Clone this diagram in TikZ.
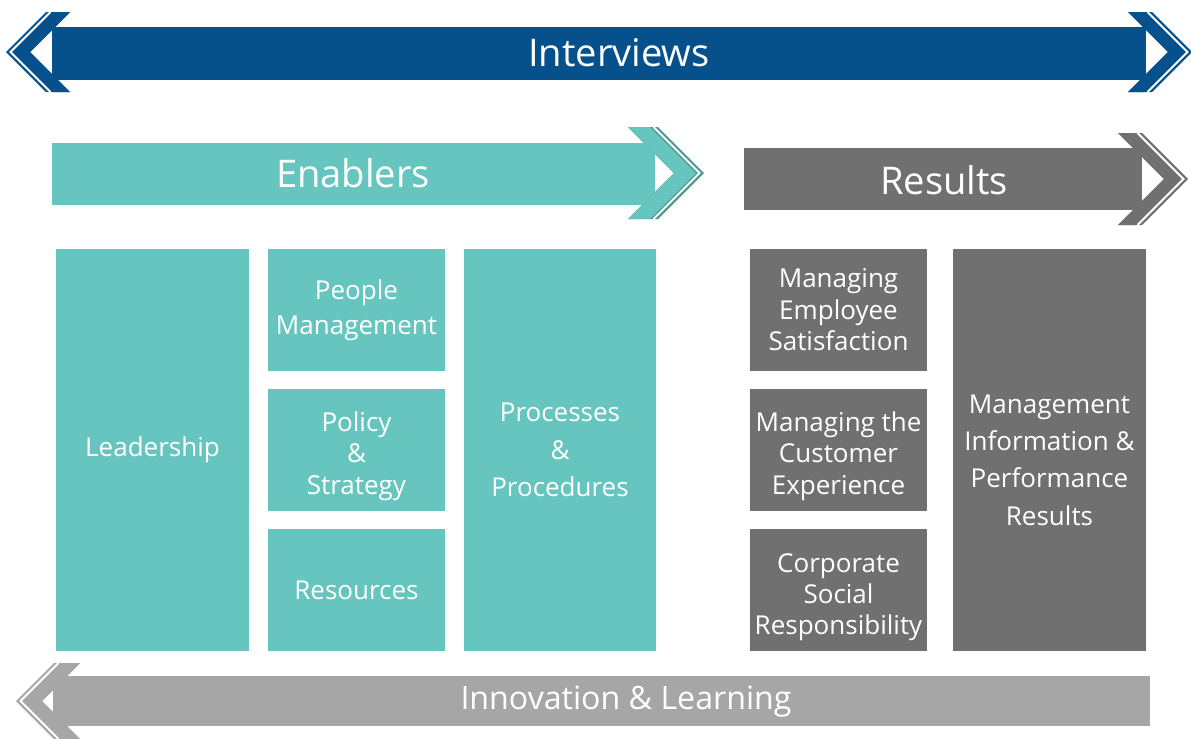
\documentclass[tikz,border=0pt]{standalone}
\usepackage{fontspec}
\setmainfont{Open Sans}
\usepackage{tikz}
\usetikzlibrary{positioning}
\definecolor{ivblue}{RGB}{6,80,140}
\definecolor{enteal}{RGB}{102,198,191}
\definecolor{enrim}{RGB}{72,150,143}
\definecolor{resgray}{RGB}{112,112,112}
\definecolor{inngray}{RGB}{166,166,166}
\newcommand{\bandfont}{\fontsize{21.7}{26}\selectfont}
\newcommand{\boxfont}{\fontsize{14.8}{17.9}\selectfont}
\newcommand{\tallfont}{\fontsize{14.8}{21.2}\selectfont}
% chevron heads: back x, mid y, half height, width, fill, rim
\newcommand{\chevright}[6]{%
  \fill[#6] (#1,#2-#3) -- ++(#4+8,0) -- ++(#3,#3) -- ++(-#3,#3) -- ++(-#4-8,0) -- ++(#3,-#3) -- cycle;
  \fill[#5] (#1,#2-#3) -- ++(#4,0) -- ++(#3,#3) -- ++(-#3,#3) -- ++(-#4,0) -- ++(#3,-#3) -- cycle;
  \draw[white, line width=1.1pt] (#1+#4+3.5,#2-#3) -- ++(#3,#3) -- ++(-#3,#3);
}
\newcommand{\chevleft}[6]{%
  \fill[#6] (#1,#2-#3) -- ++(-#4-8,0) -- ++(-#3,#3) -- ++(#3,#3) -- ++(#4+8,0) -- ++(-#3,-#3) -- cycle;
  \fill[#5] (#1,#2-#3) -- ++(-#4,0) -- ++(-#3,#3) -- ++(#3,#3) -- ++(#4,0) -- ++(-#3,-#3) -- cycle;
  \draw[white, line width=1.1pt] (#1-#4-3.5,#2-#3) -- ++(-#3,#3) -- ++(#3,#3);
}
\tikzset{
    bandlabel/.style={text=white, font=\bandfont, inner sep=0pt},
    enabler/.style={fill=enteal, text=white, align=center, inner sep=0pt, font=\boxfont},
    result/.style={fill=resgray, text=white, align=center, inner sep=0pt, font=\boxfont},
    narrow/.style={minimum width=3.54cm, minimum height=2.44cm},
    tall/.style={minimum width=3.86cm, minimum height=8.06cm, font=\tallfont},
    lower/.style={text height=#1}
}

\begin{document}
\begin{tikzpicture}[x=0.02cm, y=-0.02cm]
    \useasboundingbox (0,0) rectangle (1191,738);
    % Interviews
    \fill[ivblue] (52,27) rectangle (1146,80);
    \chevleft{70}{52}{40}{16}{ivblue}{ivblue}
    \chevright{1128}{52}{40}{16}{ivblue}{ivblue}
    \node[bandlabel] (interviews) at (619,53) {Interviews};
    % Enablers
    \fill[enteal] (52,143) rectangle (655,205);
    \chevright{628}{173}{46}{22}{enteal}{enrim}
    \node[bandlabel] (enablers) at (353,173) {Enablers};
    % Results
    \fill[resgray] (744,148) rectangle (1142,210);
    \chevright{1118}{179}{46}{16}{resgray}{resgray}
    \node[bandlabel] (results) at (944,180) {Results};
    % Innovation & Learning
    \fill[inngray] (53,676) rectangle (1150,726);
    \chevleft{80}{701}{38}{18}{inngray}{inngray}
    \node[bandlabel, font=\fontsize{18.3}{22}\selectfont] (innovation) at (626,702) {Innovation \& Learning};
    % Enabler boxes
    \node[enabler, tall] (leadership) at (152.5,450) {Leadership};
    \node[enabler, narrow, font=\fontsize{14.8}{19.8}\selectfont] (people) at (356.5,310) {People\\Management};
    \node[enabler, narrow, lower=53.8pt] (policy) at (356.5,450) {Policy\\\&\\Strategy};
    \node[enabler, narrow] (resources) at (356.5,590) {Resources};
    \node[enabler, tall] (processes) at (560,450) {Processes\\\&\\Procedures};
    % Result boxes
    \node[result, narrow] (employee) at (838.5,310) {Managing\\Employee\\Satisfaction};
    \node[result, narrow, lower=53.8pt] (customer) at (838.5,450) {Managing the\\Customer\\Experience};
    \node[result, narrow, lower=54.7pt] (csr) at (838.5,590) {Corporate\\Social\\Responsibility};
    \node[result, tall, lower=85.6pt] (mgmtinfo) at (1049.5,450) {Management\\Information \&\\Performance\\Results};
\end{tikzpicture}
\end{document}
